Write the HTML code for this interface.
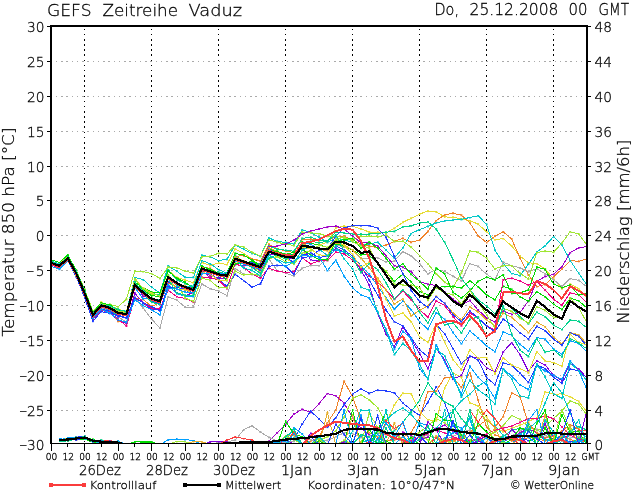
<!DOCTYPE html><html><head><meta charset="utf-8"><title>GEFS Zeitreihe Vaduz</title><style>html,body{margin:0;padding:0;background:#fff;overflow:hidden}svg{display:block}text{font-family:"DejaVu Sans","Liberation Sans",sans-serif;font-weight:200;fill:#000;stroke:#000;stroke-width:0.28px}</style></head><body>
<svg width="634" height="490" viewBox="0 0 634 490">
<rect width="634" height="490" fill="#fff"/>
<defs>
<marker id="m2" markerUnits="userSpaceOnUse" markerWidth="3" markerHeight="3" refX="1" refY="1"><rect width="2" height="2" fill="#fa3c3c"/></marker>
<marker id="m3" markerUnits="userSpaceOnUse" markerWidth="3" markerHeight="3" refX="1" refY="1"><rect width="2" height="2" fill="#00dc00"/></marker>
<marker id="m4" markerUnits="userSpaceOnUse" markerWidth="3" markerHeight="3" refX="1" refY="1"><rect width="2" height="2" fill="#1e3cff"/></marker>
<marker id="m5" markerUnits="userSpaceOnUse" markerWidth="3" markerHeight="3" refX="1" refY="1"><rect width="2" height="2" fill="#00c8c8"/></marker>
<marker id="m6" markerUnits="userSpaceOnUse" markerWidth="3" markerHeight="3" refX="1" refY="1"><rect width="2" height="2" fill="#f00082"/></marker>
<marker id="m7" markerUnits="userSpaceOnUse" markerWidth="3" markerHeight="3" refX="1" refY="1"><rect width="2" height="2" fill="#e6dc32"/></marker>
<marker id="m8" markerUnits="userSpaceOnUse" markerWidth="3" markerHeight="3" refX="1" refY="1"><rect width="2" height="2" fill="#f08228"/></marker>
<marker id="m9" markerUnits="userSpaceOnUse" markerWidth="3" markerHeight="3" refX="1" refY="1"><rect width="2" height="2" fill="#a000c8"/></marker>
<marker id="m10" markerUnits="userSpaceOnUse" markerWidth="3" markerHeight="3" refX="1" refY="1"><rect width="2" height="2" fill="#a0e632"/></marker>
<marker id="m11" markerUnits="userSpaceOnUse" markerWidth="3" markerHeight="3" refX="1" refY="1"><rect width="2" height="2" fill="#00a0ff"/></marker>
<marker id="m12" markerUnits="userSpaceOnUse" markerWidth="3" markerHeight="3" refX="1" refY="1"><rect width="2" height="2" fill="#e6af2d"/></marker>
<marker id="m13" markerUnits="userSpaceOnUse" markerWidth="3" markerHeight="3" refX="1" refY="1"><rect width="2" height="2" fill="#00d28c"/></marker>
<marker id="m14" markerUnits="userSpaceOnUse" markerWidth="3" markerHeight="3" refX="1" refY="1"><rect width="2" height="2" fill="#8200dc"/></marker>
<marker id="m15" markerUnits="userSpaceOnUse" markerWidth="3" markerHeight="3" refX="1" refY="1"><rect width="2" height="2" fill="#aaaaaa"/></marker>
<clipPath id="pc"><rect x="52" y="27" width="534" height="416"/></clipPath>
</defs>
<g stroke="#aaaaaa" stroke-width="1" stroke-dasharray="1.6 3.65" shape-rendering="crispEdges">
<line x1="50.5" y1="61.5" x2="586" y2="61.5"/>
<line x1="50.5" y1="96.5" x2="586" y2="96.5"/>
<line x1="50.5" y1="131.5" x2="586" y2="131.5"/>
<line x1="50.5" y1="166.5" x2="586" y2="166.5"/>
<line x1="50.5" y1="200.5" x2="586" y2="200.5"/>
<line x1="50.5" y1="235.5" x2="586" y2="235.5"/>
<line x1="50.5" y1="270.5" x2="586" y2="270.5"/>
<line x1="50.5" y1="305.5" x2="586" y2="305.5"/>
<line x1="50.5" y1="340.5" x2="586" y2="340.5"/>
<line x1="50.5" y1="375.5" x2="586" y2="375.5"/>
<line x1="50.5" y1="410.5" x2="586" y2="410.5"/>
</g>
<g stroke="#000" stroke-width="1" stroke-dasharray="1.6 3.55" shape-rendering="crispEdges">
<line x1="84.5" y1="28.6" x2="84.5" y2="443"/>
<line x1="151.5" y1="28.6" x2="151.5" y2="443"/>
<line x1="218.5" y1="28.6" x2="218.5" y2="443"/>
<line x1="285.5" y1="28.6" x2="285.5" y2="443"/>
<line x1="352.5" y1="28.6" x2="352.5" y2="443"/>
<line x1="419.5" y1="28.6" x2="419.5" y2="443"/>
<line x1="486.5" y1="28.6" x2="486.5" y2="443"/>
<line x1="553.5" y1="28.6" x2="553.5" y2="443"/>
</g>
<g clip-path="url(#pc)"><g fill="none" stroke-width="1" shape-rendering="crispEdges">
<polyline stroke="#a000c8" marker-mid="url(#m9)" points="59.4,439.5 67.8,438.9 76.1,438.9 84.5,436.8 92.9,441.1 101.2,442.2 109.6,441.0 118.0,441.4 126.4,444.5 134.8,444.5 143.1,444.5 151.5,444.5 159.9,444.5 168.2,444.5 176.6,444.5 185.0,444.5 193.4,444.5 201.8,444.5 210.1,444.5 218.5,444.5 226.9,444.5 235.2,444.5 243.6,444.5 252.0,444.5 260.4,444.5 268.8,441.3 277.1,432.8 285.5,424.4 293.9,414.0 302.2,409.4 310.6,412.3 319.0,403.7 327.4,393.6 335.8,395.7 344.1,403.1 352.5,417.6 360.9,428.0 369.2,434.5 377.6,438.9 386.0,441.7 394.4,438.3 402.8,432.2 411.1,435.6 419.5,439.8 427.9,437.0 436.2,428.8 444.6,425.1 453.0,431.2 461.4,437.5 469.8,440.9 478.1,440.1 486.5,436.2 494.9,439.9 503.2,441.8 511.6,438.2 520.0,432.7 528.4,428.7 536.8,433.1 545.1,439.3 553.5,441.9 561.9,438.5 570.2,434.4 578.6,436.5 587.0,440.0"/>
<polyline stroke="#1e3cff" marker-mid="url(#m4)" points="59.4,440.6 67.8,439.4 76.1,437.3 84.5,436.3 92.9,442.2 101.2,442.0 109.6,441.5 118.0,441.6 126.4,444.5 134.8,444.5 143.1,444.5 151.5,444.5 159.9,444.5 168.2,444.5 176.6,444.5 185.0,444.5 193.4,444.5 201.8,444.5 210.1,444.5 218.5,444.5 226.9,444.5 235.2,444.5 243.6,444.5 252.0,444.5 260.4,444.5 268.8,444.5 277.1,444.5 285.5,444.5 293.9,440.4 302.2,424.0 310.6,411.2 319.0,418.9 327.4,427.1 335.8,417.6 344.1,404.7 352.5,394.2 360.9,388.7 369.2,393.4 377.6,390.1 386.0,390.9 394.4,392.9 402.8,402.9 411.1,409.8 419.5,415.3 427.9,402.3 436.2,386.7 444.6,402.8 453.0,425.7 461.4,435.7 469.8,439.7 478.1,440.9 486.5,438.2 494.9,441.9 503.2,440.2 511.6,436.2 520.0,437.8 528.4,440.5 536.8,437.6 545.1,433.4 553.5,435.8 561.9,439.5 570.2,441.8 578.6,439.5 587.0,441.0"/>
<polyline stroke="#f08228" marker-mid="url(#m8)" points="59.4,441.6 67.8,440.1 76.1,439.3 84.5,437.1 92.9,440.2 101.2,441.3 109.6,440.9 118.0,444.5 126.4,444.5 134.8,444.5 143.1,444.5 151.5,444.5 159.9,444.5 168.2,444.5 176.6,444.5 185.0,444.5 193.4,444.5 201.8,444.5 210.1,444.5 218.5,444.5 226.9,444.5 235.2,444.5 243.6,444.5 252.0,444.5 260.4,444.5 268.8,444.5 277.1,444.5 285.5,444.5 293.9,444.5 302.2,444.5 310.6,441.3 319.0,436.6 327.4,422.6 335.8,410.1 344.1,381.3 352.5,396.6 360.9,420.2 369.2,432.6 377.6,437.2 386.0,440.6 394.4,440.1 402.8,437.1 411.1,432.5 419.5,417.9 427.9,391.5 436.2,391.1 444.6,377.6 453.0,377.2 461.4,387.4 469.8,372.5 478.1,400.0 486.5,427.1 494.9,434.9 503.2,437.8 511.6,440.9 520.0,440.1 528.4,437.5 536.8,438.7 545.1,440.8 553.5,438.2 561.9,436.2 570.2,439.6 578.6,441.7 587.0,441.0"/>
<polyline stroke="#aaaaaa" marker-mid="url(#m15)" points="59.4,439.8 67.8,440.5 76.1,438.2 84.5,437.4 92.9,440.8 101.2,444.5 109.6,441.5 118.0,444.5 126.4,444.5 134.8,444.5 143.1,444.5 151.5,444.5 159.9,444.5 168.2,444.5 176.6,444.5 185.0,444.5 193.4,444.5 201.8,444.5 210.1,444.5 218.5,442.5 226.9,442.0 235.2,440.2 243.6,429.8 252.0,425.8 260.4,432.0 268.8,437.3 277.1,440.7 285.5,442.7 293.9,441.3 302.2,438.3 310.6,439.7 319.0,441.8 327.4,440.4 335.8,436.6 344.1,432.8 352.5,433.6 360.9,437.4 369.2,436.4 377.6,433.1 386.0,434.6 394.4,438.7 402.8,440.9 411.1,440.1 419.5,437.2 427.9,435.2 436.2,437.7 444.6,439.9 453.0,436.4 461.4,432.3 469.8,430.1 478.1,433.6 486.5,437.8 494.9,441.0 503.2,440.1 511.6,436.2 520.0,430.7 528.4,426.7 536.8,429.4 545.1,435.3 553.5,439.8 561.9,440.9 570.2,438.3 578.6,436.3 587.0,439.0"/>
<polyline stroke="#a0e632" marker-mid="url(#m10)" points="59.4,439.2 67.8,439.8 76.1,437.8 84.5,438.7 92.9,440.1 101.2,442.7 109.6,442.6 118.0,442.5 126.4,444.5 134.8,444.5 143.1,444.5 151.5,444.5 159.9,444.5 168.2,444.5 176.6,444.5 185.0,444.5 193.4,444.5 201.8,444.5 210.1,444.5 218.5,444.5 226.9,444.5 235.2,444.5 243.6,444.5 252.0,444.5 260.4,444.5 268.8,444.5 277.1,444.5 285.5,444.5 293.9,444.5 302.2,444.5 310.6,444.5 319.0,440.4 327.4,436.7 335.8,430.9 344.1,417.3 352.5,398.3 360.9,394.8 369.2,399.8 377.6,407.7 386.0,422.9 394.4,434.2 402.8,439.8 411.1,438.2 419.5,432.4 427.9,425.9 436.2,418.7 444.6,422.8 453.0,429.2 461.4,435.5 469.8,439.9 478.1,440.9 486.5,438.2 494.9,432.1 503.2,425.6 511.6,415.5 520.0,419.4 528.4,426.6 536.8,430.5 545.1,427.4 553.5,418.6 561.9,411.0 570.2,400.9 578.6,404.2 587.0,415.0"/>
<polyline stroke="#e6dc32" marker-mid="url(#m7)" points="59.4,441.4 67.8,439.1 76.1,439.3 84.5,437.8 92.9,440.6 101.2,440.2 109.6,441.7 118.0,441.9 126.4,444.5 134.8,444.5 143.1,444.5 151.5,444.5 159.9,444.5 168.2,444.5 176.6,444.5 185.0,444.5 193.4,444.5 201.8,444.5 210.1,444.5 218.5,444.5 226.9,444.5 235.2,444.5 243.6,444.5 252.0,444.5 260.4,444.5 268.8,444.5 277.1,444.5 285.5,444.5 293.9,444.5 302.2,444.5 310.6,444.5 319.0,444.5 327.4,444.5 335.8,444.5 344.1,444.5 352.5,444.5 360.9,444.5 369.2,444.5 377.6,444.5 386.0,423.3 394.4,404.7 402.8,393.2 411.1,393.7 419.5,411.3 427.9,419.8 436.2,420.7 444.6,388.0 453.0,372.9 461.4,377.0 469.8,403.0 478.1,405.9 486.5,417.2 494.9,427.8 503.2,431.7 511.6,428.2 520.0,425.3 528.4,421.3 536.8,417.8 545.1,391.8 553.5,394.2 561.9,393.9 570.2,396.7 578.6,401.4 587.0,412.0"/>
<polyline stroke="#00d28c" marker-mid="url(#m13)" points="59.4,439.8 67.8,441.0 76.1,437.8 84.5,438.1 92.9,441.3 101.2,440.8 109.6,441.7 118.0,441.4 126.4,444.5 134.8,444.5 143.1,444.5 151.5,444.5 159.9,444.5 168.2,444.5 176.6,444.5 185.0,444.5 193.4,444.5 201.8,444.5 210.1,444.5 218.5,444.5 226.9,444.5 235.2,444.5 243.6,444.5 252.0,444.5 260.4,444.5 268.8,444.5 277.1,444.5 285.5,444.5 293.9,444.5 302.2,444.5 310.6,444.5 319.0,444.5 327.4,444.5 335.8,444.5 344.1,444.5 352.5,444.5 360.9,444.5 369.2,444.5 377.6,444.5 386.0,437.0 394.4,430.5 402.8,422.2 411.1,412.0 419.5,400.4 427.9,382.8 436.2,394.1 444.6,401.9 453.0,406.3 461.4,418.5 469.8,427.7 478.1,433.4 486.5,436.8 494.9,440.0 503.2,436.3 511.6,430.3 520.0,428.2 528.4,431.3 536.8,435.4 545.1,439.6 553.5,440.9 561.9,437.5 570.2,430.7 578.6,426.6 587.0,430.0"/>
<polyline stroke="#00c8c8" marker-mid="url(#m5)" points="59.4,441.3 67.8,438.7 76.1,438.2 84.5,437.0 92.9,441.8 101.2,442.7 109.6,442.3 118.0,442.7 126.4,444.5 134.8,444.5 143.1,444.5 151.5,444.5 159.9,444.5 168.2,444.5 176.6,444.5 185.0,444.5 193.4,444.5 201.8,444.5 210.1,444.5 218.5,444.5 226.9,444.5 235.2,444.5 243.6,444.5 252.0,444.5 260.4,444.5 268.8,444.5 277.1,444.5 285.5,444.5 293.9,444.5 302.2,444.5 310.6,444.5 319.0,444.5 327.4,444.5 335.8,444.5 344.1,444.5 352.5,444.5 360.9,442.7 369.2,440.2 377.6,430.5 386.0,420.0 394.4,412.6 402.8,408.1 411.1,414.3 419.5,424.4 427.9,431.1 436.2,428.4 444.6,418.5 453.0,410.9 461.4,400.8 469.8,394.2 478.1,386.0 486.5,380.9 494.9,425.4 503.2,435.3 511.6,437.9 520.0,434.4 528.4,429.1 536.8,421.2 545.1,403.2 553.5,382.8 561.9,392.9 570.2,413.5 578.6,429.6 587.0,438.0"/>
<polyline stroke="#f00082" marker-mid="url(#m6)" points="59.4,438.7 67.8,440.8 76.1,437.2 84.5,437.1 92.9,440.4 101.2,442.3 109.6,442.5 118.0,442.1 126.4,444.5 134.8,444.5 143.1,444.5 151.5,444.5 159.9,444.5 168.2,444.5 176.6,444.5 185.0,444.5 193.4,444.5 201.8,444.5 210.1,444.5 218.5,444.5 226.9,444.5 235.2,444.5 243.6,444.5 252.0,444.5 260.4,444.5 268.8,444.5 277.1,444.5 285.5,444.5 293.9,444.5 302.2,444.5 310.6,444.5 319.0,444.5 327.4,444.5 335.8,444.5 344.1,444.5 352.5,444.5 360.9,444.5 369.2,444.5 377.6,444.5 386.0,444.5 394.4,444.5 402.8,442.5 411.1,441.1 419.5,437.2 427.9,433.5 436.2,430.3 444.6,432.9 453.0,436.6 461.4,439.8 469.8,441.0 478.1,438.3 486.5,434.2 494.9,430.1 503.2,428.2 511.6,426.1 520.0,422.4 528.4,418.7 536.8,418.9 545.1,415.8 553.5,418.7 561.9,426.8 570.2,435.2 578.6,439.4 587.0,441.0"/>
<polyline stroke="#f08228" marker-mid="url(#m8)" points="59.4,441.3 67.8,440.9 76.1,437.0 84.5,437.9 92.9,440.7 101.2,441.2 109.6,441.9 118.0,442.0 126.4,444.5 134.8,444.5 143.1,444.5 151.5,444.5 159.9,444.5 168.2,444.5 176.6,444.5 185.0,444.5 193.4,444.5 201.8,444.5 210.1,444.5 218.5,444.5 226.9,444.5 235.2,444.5 243.6,444.5 252.0,444.5 260.4,444.5 268.8,444.5 277.1,444.5 285.5,444.5 293.9,444.5 302.2,444.5 310.6,444.5 319.0,444.5 327.4,444.5 335.8,444.5 344.1,444.5 352.5,444.5 360.9,444.5 369.2,444.5 377.6,444.5 386.0,444.5 394.4,444.5 402.8,444.5 411.1,444.5 419.5,444.5 427.9,444.5 436.2,444.5 444.6,442.3 453.0,441.1 461.4,438.2 469.8,432.2 478.1,426.0 486.5,420.1 494.9,427.3 503.2,416.6 511.6,393.0 520.0,396.8 528.4,423.3 536.8,432.9 545.1,437.6 553.5,436.1 561.9,430.8 570.2,424.6 578.6,429.1 587.0,436.0"/>
<polyline stroke="#00dc00" marker-mid="url(#m3)" points="59.4,440.5 67.8,439.8 76.1,440.0 84.5,439.0 92.9,442.4 101.2,441.3 109.6,444.5 118.0,444.5 126.4,444.5 134.8,442.0 143.1,441.5 151.5,442.0 159.9,444.5 168.2,444.5 176.6,444.5 185.0,444.5 193.4,444.5 201.8,444.5 210.1,444.5 218.5,444.5 226.9,444.5 235.2,444.5 243.6,444.5 252.0,444.5 260.4,442.3 268.8,444.5 277.1,444.5 285.5,421.3 293.9,433.8 302.2,436.9 310.6,444.5 319.0,441.3 327.4,444.5 335.8,444.5 344.1,444.5 352.5,410.0 360.9,444.5 369.2,444.5 377.6,431.1 386.0,411.3 394.4,444.5 402.8,444.5 411.1,437.4 419.5,444.5 427.9,444.5 436.2,413.6 444.6,420.2 453.0,421.1 461.4,435.0 469.8,444.5 478.1,423.3 486.5,432.0 494.9,438.5 503.2,444.5 511.6,444.5 520.0,444.5 528.4,444.5 536.8,423.4 545.1,410.0 553.5,444.5 561.9,444.5 570.2,444.5 578.6,444.5 587.0,444.5"/>
<polyline stroke="#00a0ff" marker-mid="url(#m11)" points="59.4,439.7 67.8,437.9 76.1,437.4 84.5,438.5 92.9,441.5 101.2,442.3 109.6,440.9 118.0,442.7 126.4,444.5 134.8,444.5 143.1,444.5 151.5,444.5 159.9,444.5 168.2,440.0 176.6,439.0 185.0,439.5 193.4,440.5 201.8,444.5 210.1,444.5 218.5,444.5 226.9,444.5 235.2,444.5 243.6,444.5 252.0,440.0 260.4,444.5 268.8,444.5 277.1,441.5 285.5,441.1 293.9,427.8 302.2,433.9 310.6,444.5 319.0,444.5 327.4,444.5 335.8,444.5 344.1,444.5 352.5,444.5 360.9,436.1 369.2,444.5 377.6,434.3 386.0,444.5 394.4,444.5 402.8,436.3 411.1,444.5 419.5,422.7 427.9,425.7 436.2,444.5 444.6,438.0 453.0,433.1 461.4,429.8 469.8,419.3 478.1,444.5 486.5,438.1 494.9,444.5 503.2,438.0 511.6,444.5 520.0,434.5 528.4,437.1 536.8,444.5 545.1,444.5 553.5,433.3 561.9,444.5 570.2,444.5 578.6,441.7 587.0,438.5"/>
<polyline stroke="#e6af2d" marker-mid="url(#m12)" points="59.4,440.9 67.8,439.3 76.1,439.7 84.5,437.2 92.9,440.1 101.2,442.2 109.6,440.7 118.0,444.5 126.4,444.5 134.8,444.5 143.1,444.5 151.5,444.5 159.9,444.5 168.2,444.5 176.6,444.5 185.0,444.5 193.4,441.5 201.8,441.8 210.1,444.5 218.5,444.5 226.9,444.5 235.2,444.5 243.6,444.5 252.0,442.7 260.4,444.5 268.8,444.5 277.1,444.5 285.5,436.2 293.9,435.3 302.2,444.5 310.6,444.5 319.0,444.5 327.4,413.0 335.8,444.5 344.1,444.5 352.5,416.1 360.9,444.5 369.2,444.5 377.6,444.5 386.0,444.5 394.4,423.1 402.8,444.5 411.1,444.5 419.5,436.3 427.9,444.5 436.2,435.7 444.6,444.5 453.0,440.8 461.4,444.5 469.8,444.5 478.1,444.5 486.5,441.8 494.9,428.1 503.2,444.5 511.6,444.5 520.0,438.0 528.4,444.5 536.8,444.5 545.1,414.9 553.5,444.5 561.9,435.6 570.2,426.2 578.6,444.5 587.0,444.5"/>
<polyline stroke="#8200dc" marker-mid="url(#m14)" points="59.4,440.6 67.8,439.1 76.1,439.4 84.5,436.2 92.9,441.6 101.2,440.5 109.6,442.3 118.0,441.6 126.4,444.5 134.8,444.5 143.1,444.5 151.5,444.5 159.9,444.5 168.2,444.5 176.6,444.5 185.0,444.5 193.4,444.5 201.8,444.5 210.1,442.0 218.5,441.8 226.9,442.0 235.2,444.5 243.6,442.9 252.0,442.2 260.4,444.5 268.8,441.8 277.1,444.5 285.5,438.9 293.9,444.5 302.2,444.5 310.6,433.4 319.0,437.3 327.4,444.5 335.8,444.5 344.1,441.8 352.5,444.5 360.9,418.5 369.2,444.5 377.6,444.5 386.0,444.5 394.4,444.5 402.8,444.5 411.1,444.5 419.5,444.5 427.9,422.1 436.2,429.8 444.6,444.5 453.0,421.4 461.4,444.5 469.8,444.5 478.1,440.8 486.5,444.5 494.9,444.5 503.2,444.5 511.6,429.3 520.0,436.8 528.4,444.5 536.8,444.5 545.1,423.4 553.5,444.5 561.9,444.5 570.2,444.5 578.6,444.5 587.0,410.0"/>
<polyline stroke="#fa3c3c" marker-mid="url(#m2)" points="59.4,440.7 67.8,438.8 76.1,439.6 84.5,438.2 92.9,440.0 101.2,440.8 109.6,440.5 118.0,442.7 126.4,444.5 134.8,444.5 143.1,444.5 151.5,444.5 159.9,444.5 168.2,444.5 176.6,444.5 185.0,444.5 193.4,444.5 201.8,444.5 210.1,444.5 218.5,444.5 226.9,440.0 235.2,437.0 243.6,438.5 252.0,440.0 260.4,444.5 268.8,442.5 277.1,440.8 285.5,444.5 293.9,431.6 302.2,444.5 310.6,444.5 319.0,444.5 327.4,444.5 335.8,444.5 344.1,444.5 352.5,444.5 360.9,444.5 369.2,441.9 377.6,444.5 386.0,420.9 394.4,428.5 402.8,423.1 411.1,444.5 419.5,444.5 427.9,444.5 436.2,438.0 444.6,444.5 453.0,410.0 461.4,444.5 469.8,410.0 478.1,422.1 486.5,410.0 494.9,418.6 503.2,429.7 511.6,438.7 520.0,444.5 528.4,444.5 536.8,444.5 545.1,444.5 553.5,444.5 561.9,444.5 570.2,433.3 578.6,430.3 587.0,430.2"/>
<polyline stroke="#00dc00" marker-mid="url(#m3)" points="59.4,439.0 67.8,440.2 76.1,438.2 84.5,437.5 92.9,439.4 101.2,441.6 109.6,442.2 118.0,444.5 126.4,444.5 134.8,444.5 143.1,442.3 151.5,442.0 159.9,444.5 168.2,444.5 176.6,444.5 185.0,444.5 193.4,444.5 201.8,444.5 210.1,444.5 218.5,444.5 226.9,444.5 235.2,444.5 243.6,444.5 252.0,442.7 260.4,441.5 268.8,444.5 277.1,444.5 285.5,444.5 293.9,444.5 302.2,444.5 310.6,444.5 319.0,436.7 327.4,444.5 335.8,444.5 344.1,444.5 352.5,444.5 360.9,444.5 369.2,429.0 377.6,444.5 386.0,441.3 394.4,444.5 402.8,444.5 411.1,442.6 419.5,444.5 427.9,444.5 436.2,444.5 444.6,444.5 453.0,444.5 461.4,444.5 469.8,442.0 478.1,444.5 486.5,444.5 494.9,444.5 503.2,444.5 511.6,439.2 520.0,428.1 528.4,430.3 536.8,444.5 545.1,427.8 553.5,444.5 561.9,414.9 570.2,432.4 578.6,431.3 587.0,444.5"/>
<polyline stroke="#a0e632" marker-mid="url(#m10)" points="59.4,439.5 67.8,438.7 76.1,439.0 84.5,436.7 92.9,440.9 101.2,440.8 109.6,444.5 118.0,441.6 126.4,444.5 134.8,444.5 143.1,444.5 151.5,444.5 159.9,444.5 168.2,444.5 176.6,441.5 185.0,441.5 193.4,444.5 201.8,444.5 210.1,444.5 218.5,444.5 226.9,444.5 235.2,444.5 243.6,442.8 252.0,441.8 260.4,444.5 268.8,444.5 277.1,444.5 285.5,436.2 293.9,439.5 302.2,444.5 310.6,444.5 319.0,438.9 327.4,444.5 335.8,444.5 344.1,440.3 352.5,444.5 360.9,444.5 369.2,413.0 377.6,427.6 386.0,444.5 394.4,444.5 402.8,444.5 411.1,444.5 419.5,435.2 427.9,439.7 436.2,444.5 444.6,438.5 453.0,444.5 461.4,444.5 469.8,444.5 478.1,410.0 486.5,420.6 494.9,444.5 503.2,442.2 511.6,444.5 520.0,444.5 528.4,444.5 536.8,444.5 545.1,444.5 553.5,441.2 561.9,410.0 570.2,429.1 578.6,438.2 587.0,438.9"/>
<polyline stroke="#00a0ff" marker-mid="url(#m11)" points="59.4,438.8 67.8,439.6 76.1,438.6 84.5,437.7 92.9,441.6 101.2,441.7 109.6,444.5 118.0,441.3 126.4,444.5 134.8,444.5 143.1,444.5 151.5,444.5 159.9,444.5 168.2,444.5 176.6,444.5 185.0,444.5 193.4,444.5 201.8,444.5 210.1,444.5 218.5,444.5 226.9,444.5 235.2,444.5 243.6,444.5 252.0,441.7 260.4,444.5 268.8,444.5 277.1,441.8 285.5,444.5 293.9,433.8 302.2,444.5 310.6,444.5 319.0,444.5 327.4,444.5 335.8,444.5 344.1,410.0 352.5,444.5 360.9,415.1 369.2,444.5 377.6,439.6 386.0,422.9 394.4,436.7 402.8,422.0 411.1,444.5 419.5,444.5 427.9,444.5 436.2,442.7 444.6,442.1 453.0,425.4 461.4,427.8 469.8,444.5 478.1,437.2 486.5,444.5 494.9,444.5 503.2,444.5 511.6,444.5 520.0,444.5 528.4,420.0 536.8,410.0 545.1,444.5 553.5,444.5 561.9,433.6 570.2,444.5 578.6,440.6 587.0,444.5"/>
<polyline stroke="#00c8c8" marker-mid="url(#m5)" points="59.4,439.2 67.8,439.8 76.1,437.4 84.5,438.9 92.9,440.1 101.2,440.3 109.6,442.6 118.0,442.1 126.4,444.5 134.8,444.5 143.1,444.5 151.5,444.5 159.9,444.5 168.2,444.5 176.6,444.5 185.0,444.5 193.4,444.5 201.8,444.5 210.1,444.5 218.5,444.5 226.9,444.5 235.2,444.5 243.6,444.5 252.0,444.5 260.4,444.5 268.8,444.5 277.1,444.5 285.5,444.5 293.9,438.0 302.2,444.5 310.6,444.5 319.0,436.6 327.4,444.5 335.8,444.5 344.1,444.5 352.5,431.2 360.9,410.0 369.2,410.0 377.6,444.5 386.0,410.0 394.4,444.5 402.8,444.5 411.1,444.5 419.5,444.5 427.9,444.5 436.2,444.5 444.6,410.0 453.0,444.5 461.4,439.6 469.8,416.4 478.1,444.5 486.5,444.5 494.9,444.5 503.2,444.5 511.6,444.5 520.0,444.5 528.4,444.5 536.8,444.5 545.1,420.1 553.5,432.2 561.9,444.5 570.2,433.7 578.6,419.8 587.0,444.5"/>
<polyline stroke="#00d28c" marker-mid="url(#m13)" points="59.4,441.3 67.8,440.9 76.1,439.0 84.5,436.1 92.9,441.3 101.2,440.4 109.6,444.5 118.0,444.5 126.4,444.5 134.8,444.5 143.1,444.5 151.5,444.5 159.9,444.5 168.2,444.5 176.6,444.5 185.0,444.5 193.4,444.5 201.8,444.5 210.1,444.5 218.5,444.5 226.9,444.5 235.2,444.5 243.6,442.9 252.0,444.5 260.4,444.5 268.8,444.5 277.1,444.5 285.5,436.9 293.9,429.4 302.2,444.5 310.6,444.5 319.0,444.5 327.4,444.5 335.8,444.5 344.1,444.5 352.5,444.5 360.9,434.5 369.2,437.1 377.6,444.5 386.0,427.8 394.4,444.5 402.8,444.5 411.1,444.5 419.5,439.4 427.9,426.3 436.2,444.5 444.6,444.5 453.0,410.0 461.4,444.5 469.8,410.0 478.1,444.5 486.5,444.5 494.9,444.5 503.2,441.2 511.6,444.5 520.0,444.5 528.4,424.4 536.8,444.5 545.1,444.5 553.5,444.5 561.9,440.1 570.2,444.5 578.6,437.8 587.0,440.8"/>
<polyline stroke="#1e3cff" marker-mid="url(#m4)" points="59.4,439.5 67.8,439.6 76.1,439.9 84.5,437.9 92.9,440.5 101.2,441.3 109.6,441.2 118.0,442.5 126.4,444.5 134.8,444.5 143.1,444.5 151.5,444.5 159.9,444.5 168.2,444.5 176.6,444.5 185.0,444.5 193.4,444.5 201.8,444.5 210.1,444.5 218.5,444.5 226.9,444.5 235.2,444.5 243.6,444.5 252.0,442.5 260.4,444.5 268.8,444.5 277.1,444.5 285.5,444.5 293.9,444.5 302.2,444.5 310.6,436.8 319.0,444.5 327.4,444.5 335.8,424.4 344.1,434.4 352.5,444.5 360.9,418.3 369.2,444.5 377.6,415.5 386.0,444.5 394.4,444.5 402.8,444.5 411.1,444.5 419.5,435.7 427.9,444.5 436.2,444.5 444.6,441.5 453.0,421.2 461.4,444.5 469.8,435.1 478.1,444.5 486.5,444.5 494.9,444.5 503.2,444.5 511.6,444.5 520.0,444.5 528.4,431.4 536.8,438.9 545.1,444.5 553.5,441.9 561.9,434.4 570.2,410.0 578.6,444.5 587.0,444.5"/>
<polyline stroke="#e6dc32" marker-mid="url(#m7)" points="51.0,261.0 59.4,264.0 67.8,255.5 76.1,271.1 84.5,290.6 92.9,313.1 101.2,302.2 109.6,305.7 118.0,309.0 126.4,311.9 134.8,278.0 143.1,288.7 151.5,294.4 159.9,294.6 168.2,270.3 176.6,277.4 185.0,280.1 193.4,282.7 201.8,262.4 210.1,265.4 218.5,263.0 226.9,264.5 235.2,249.1 243.6,253.5 252.0,258.8 260.4,260.5 268.8,250.6 277.1,255.1 285.5,258.6 293.9,262.6 302.2,254.9 310.6,250.7 319.0,245.2 327.4,242.2 335.8,228.0 344.1,226.0 352.5,226.0 360.9,229.0 369.2,232.0 377.6,232.0 386.0,233.0 394.4,228.3 402.8,222.3 411.1,218.3 419.5,214.1 427.9,211.1 436.2,211.8 444.6,216.9 453.0,217.3 461.4,218.9 469.8,220.7 478.1,224.1 486.5,231.8 494.9,239.7 503.2,238.5 511.6,245.9 520.0,256.0 528.4,262.8 536.8,263.5 545.1,269.0 553.5,279.0 561.9,288.7 570.2,284.2 578.6,288.6 587.0,298.0"/>
<polyline stroke="#f08228" marker-mid="url(#m8)" points="51.0,264.7 59.4,268.3 67.8,260.9 76.1,275.5 84.5,294.8 92.9,316.5 101.2,308.9 109.6,312.7 118.0,321.3 126.4,323.4 134.8,298.2 143.1,299.5 151.5,306.3 159.9,303.0 168.2,283.3 176.6,286.7 185.0,290.5 193.4,289.4 201.8,267.1 210.1,268.3 218.5,273.5 226.9,275.5 235.2,256.2 243.6,255.8 252.0,258.9 260.4,261.0 268.8,244.2 277.1,248.5 285.5,251.1 293.9,252.5 302.2,239.2 310.6,239.0 319.0,240.6 327.4,241.2 335.8,236.0 344.1,236.0 352.5,240.0 360.9,243.9 369.2,246.0 377.6,247.7 386.0,245.1 394.4,241.3 402.8,238.3 411.1,242.3 419.5,240.1 427.9,231.4 436.2,220.5 444.6,215.1 453.0,213.2 461.4,215.2 469.8,222.8 478.1,235.8 486.5,242.5 494.9,236.1 503.2,231.8 511.6,239.0 520.0,258.0 528.4,274.9 536.8,286.5 545.1,284.6 553.5,276.8 561.9,269.0 570.2,260.7 578.6,261.3 587.0,259.0"/>
<polyline stroke="#00d28c" marker-mid="url(#m13)" points="51.0,265.0 59.4,267.8 67.8,258.9 76.1,273.9 84.5,294.6 92.9,316.4 101.2,306.9 109.6,311.7 118.0,314.5 126.4,315.0 134.8,282.0 143.1,288.4 151.5,293.5 159.9,294.9 168.2,269.7 176.6,279.6 185.0,283.6 193.4,286.6 201.8,270.3 210.1,272.8 218.5,271.8 226.9,274.2 235.2,255.4 243.6,262.0 252.0,262.2 260.4,263.9 268.8,245.9 277.1,249.2 285.5,250.2 293.9,251.3 302.2,238.4 310.6,237.2 319.0,240.0 327.4,240.9 335.8,232.0 344.1,233.0 352.5,234.0 360.9,234.0 369.2,234.0 377.6,233.6 386.0,232.2 394.4,231.4 402.8,226.9 411.1,225.8 419.5,223.1 427.9,221.8 436.2,229.1 444.6,242.3 453.0,259.5 461.4,278.3 469.8,289.2 478.1,300.0 486.5,305.9 494.9,313.6 503.2,301.2 511.6,307.9 520.0,316.6 528.4,323.7 536.8,312.2 545.1,316.7 553.5,325.2 561.9,329.5 570.2,320.0 578.6,321.2 587.0,328.0"/>
<polyline stroke="#00c8c8" marker-mid="url(#m5)" points="51.0,262.4 59.4,265.3 67.8,257.4 76.1,273.2 84.5,292.8 92.9,314.0 101.2,304.6 109.6,305.9 118.0,309.6 126.4,311.3 134.8,277.5 143.1,279.5 151.5,287.2 159.9,292.9 168.2,266.0 176.6,271.1 185.0,277.2 193.4,277.3 201.8,255.2 210.1,256.8 218.5,260.5 226.9,259.3 235.2,245.2 243.6,249.1 252.0,253.4 260.4,256.3 268.8,237.9 277.1,241.3 285.5,242.4 293.9,244.3 302.2,229.8 310.6,232.5 319.0,237.1 327.4,242.3 335.8,238.0 344.1,240.0 352.5,242.0 360.9,245.0 369.2,244.0 377.6,242.2 386.0,250.0 394.4,258.0 402.8,247.8 411.1,233.5 419.5,229.6 427.9,226.4 436.2,222.8 444.6,220.9 453.0,220.1 461.4,219.4 469.8,217.5 478.1,215.7 486.5,224.3 494.9,250.1 503.2,263.3 511.6,273.5 520.0,275.6 528.4,264.1 536.8,252.1 545.1,245.7 553.5,236.7 561.9,244.9 570.2,260.6 578.6,273.2 587.0,285.0"/>
<polyline stroke="#aaaaaa" marker-mid="url(#m15)" points="51.0,263.7 59.4,266.8 67.8,258.5 76.1,272.5 84.5,292.2 92.9,314.7 101.2,307.2 109.6,311.2 118.0,316.7 126.4,322.3 134.8,297.0 143.1,308.0 151.5,319.0 159.9,328.0 168.2,297.0 176.6,299.9 185.0,307.0 193.4,307.0 201.8,284.0 210.1,288.6 218.5,291.0 226.9,295.7 235.2,268.6 243.6,274.0 252.0,274.4 260.4,276.0 268.8,258.8 277.1,270.6 285.5,273.0 293.9,275.9 302.2,268.3 310.6,265.4 319.0,265.6 327.4,258.7 335.8,245.0 344.1,247.0 352.5,250.0 360.9,258.5 369.2,258.0 377.6,257.9 386.0,261.8 394.4,261.0 402.8,251.7 411.1,255.8 419.5,263.5 427.9,273.9 436.2,269.3 444.6,271.4 453.0,276.2 461.4,281.0 469.8,263.5 478.1,266.4 486.5,274.0 494.9,280.0 503.2,262.1 511.6,265.7 520.0,267.9 528.4,271.7 536.8,268.8 545.1,273.8 553.5,279.7 561.9,286.4 570.2,278.6 578.6,280.3 587.0,287.0"/>
<polyline stroke="#a0e632" marker-mid="url(#m10)" points="51.0,261.8 59.4,264.6 67.8,256.4 76.1,270.3 84.5,289.1 92.9,310.9 101.2,304.4 109.6,304.3 118.0,306.7 126.4,299.3 134.8,271.0 143.1,271.5 151.5,273.6 159.9,278.4 168.2,267.0 176.6,267.9 185.0,271.0 193.4,273.0 201.8,257.0 210.1,256.4 218.5,253.3 226.9,254.0 235.2,245.0 243.6,247.0 252.0,252.4 260.4,256.0 268.8,239.8 277.1,242.4 285.5,243.9 293.9,245.6 302.2,232.0 310.6,232.8 319.0,233.5 327.4,236.3 335.8,236.0 344.1,238.0 352.5,240.0 360.9,236.1 369.2,236.0 377.6,237.0 386.0,235.2 394.4,241.5 402.8,241.1 411.1,247.1 419.5,255.7 427.9,263.8 436.2,273.8 444.6,282.2 453.0,287.4 461.4,273.2 469.8,250.8 478.1,252.3 486.5,258.2 494.9,269.0 503.2,265.7 511.6,266.0 520.0,273.4 528.4,279.0 536.8,252.6 545.1,251.1 553.5,252.2 561.9,243.2 570.2,231.7 578.6,233.8 587.0,245.3"/>
<polyline stroke="#a000c8" marker-mid="url(#m9)" points="51.0,265.1 59.4,267.6 67.8,258.3 76.1,273.0 84.5,293.6 92.9,314.6 101.2,306.6 109.6,308.4 118.0,314.0 126.4,314.9 134.8,283.2 143.1,296.3 151.5,298.5 159.9,304.1 168.2,277.7 176.6,284.5 185.0,286.3 193.4,288.6 201.8,269.4 210.1,278.3 218.5,277.9 226.9,279.1 235.2,264.7 243.6,265.3 252.0,266.5 260.4,264.1 268.8,246.6 277.1,246.0 285.5,244.0 293.9,240.1 302.2,234.0 310.6,231.0 319.0,229.0 327.4,227.1 335.8,226.0 344.1,229.0 352.5,236.0 360.9,242.9 369.2,243.0 377.6,246.0 386.0,255.7 394.4,265.7 402.8,267.2 411.1,271.4 419.5,281.6 427.9,284.3 436.2,285.5 444.6,292.0 453.0,299.1 461.4,304.8 469.8,300.4 478.1,310.0 486.5,317.8 494.9,321.8 503.2,311.0 511.6,314.4 520.0,312.5 528.4,301.1 536.8,281.3 545.1,276.4 553.5,274.4 561.9,266.7 570.2,252.6 578.6,247.9 587.0,246.5"/>
<polyline stroke="#00dc00" marker-mid="url(#m3)" points="51.0,262.0 59.4,264.7 67.8,257.2 76.1,272.8 84.5,292.9 92.9,314.8 101.2,304.6 109.6,306.9 118.0,312.8 126.4,313.9 134.8,282.2 143.1,287.6 151.5,292.0 159.9,292.7 168.2,271.1 176.6,278.1 185.0,282.1 193.4,288.3 201.8,265.8 210.1,270.2 218.5,275.0 226.9,273.2 235.2,253.4 243.6,255.1 252.0,260.1 260.4,265.4 268.8,248.1 277.1,252.9 285.5,254.8 293.9,255.0 302.2,241.9 310.6,243.6 319.0,244.5 327.4,247.6 335.8,244.0 344.1,246.0 352.5,250.0 360.9,254.9 369.2,255.0 377.6,263.7 386.0,271.7 394.4,281.3 402.8,274.2 411.1,281.7 419.5,291.6 427.9,294.7 436.2,287.6 444.6,286.5 453.0,286.4 461.4,287.9 469.8,280.9 478.1,286.6 486.5,294.8 494.9,299.8 503.2,286.3 511.6,289.4 520.0,296.7 528.4,301.2 536.8,291.7 545.1,296.7 553.5,304.3 561.9,309.4 570.2,298.3 578.6,300.8 587.0,308.0"/>
<polyline stroke="#8200dc" marker-mid="url(#m14)" points="51.0,261.0 59.4,264.0 67.8,257.4 76.1,273.4 84.5,294.7 92.9,317.2 101.2,308.7 109.6,312.6 118.0,319.9 126.4,323.2 134.8,293.1 143.1,302.9 151.5,309.4 159.9,309.9 168.2,286.5 176.6,292.5 185.0,295.7 193.4,292.6 201.8,271.4 210.1,275.7 218.5,278.1 226.9,274.8 235.2,258.7 243.6,264.0 252.0,267.1 260.4,270.9 268.8,254.2 277.1,254.5 285.5,258.7 293.9,258.1 302.2,247.2 310.6,259.7 319.0,261.2 327.4,259.1 335.8,248.0 344.1,252.0 352.5,258.0 360.9,269.8 369.2,285.0 377.6,313.4 386.0,334.0 394.4,346.8 402.8,326.6 411.1,339.4 419.5,353.3 427.9,368.6 436.2,348.7 444.6,359.7 453.0,379.1 461.4,375.3 469.8,356.5 478.1,358.0 486.5,367.8 494.9,371.8 503.2,351.9 511.6,342.6 520.0,354.5 528.4,371.2 536.8,360.8 545.1,364.9 553.5,375.2 561.9,380.8 570.2,363.5 578.6,368.8 587.0,378.0"/>
<polyline stroke="#1e3cff" marker-mid="url(#m4)" points="51.0,264.6 59.4,267.0 67.8,260.4 76.1,276.6 84.5,296.7 92.9,319.5 101.2,309.2 109.6,311.2 118.0,316.6 126.4,317.5 134.8,286.9 143.1,294.1 151.5,300.7 159.9,304.4 168.2,282.0 176.6,282.3 185.0,290.5 193.4,292.7 201.8,268.6 210.1,270.7 218.5,274.6 226.9,278.8 235.2,260.3 243.6,263.7 252.0,262.5 260.4,265.6 268.8,250.3 277.1,252.2 285.5,256.5 293.9,262.7 302.2,255.3 310.6,252.7 319.0,257.6 327.4,255.7 335.8,246.0 344.1,250.0 352.5,256.0 360.9,265.9 369.2,280.0 377.6,295.0 386.0,310.0 394.4,321.7 402.8,325.7 411.1,337.6 419.5,349.9 427.9,356.6 436.2,324.2 444.6,333.8 453.0,348.5 461.4,363.6 469.8,356.1 478.1,360.2 486.5,377.6 494.9,384.7 503.2,362.8 511.6,365.3 520.0,373.2 528.4,382.4 536.8,364.8 545.1,368.7 553.5,377.2 561.9,383.2 570.2,369.0 578.6,370.8 587.0,380.0"/>
<polyline stroke="#f00082" marker-mid="url(#m6)" points="51.0,265.2 59.4,267.2 67.8,260.1 76.1,274.5 84.5,294.4 92.9,319.3 101.2,310.5 109.6,312.2 118.0,319.2 126.4,325.9 134.8,298.3 143.1,302.6 151.5,308.2 159.9,308.2 168.2,290.2 176.6,296.7 185.0,298.4 193.4,302.1 201.8,277.2 210.1,277.4 218.5,280.1 226.9,288.6 235.2,263.4 243.6,267.4 252.0,274.0 260.4,278.1 268.8,268.2 277.1,270.9 285.5,272.5 293.9,271.6 302.2,257.8 310.6,263.9 319.0,260.8 327.4,260.5 335.8,252.0 344.1,254.0 352.5,260.0 360.9,267.9 369.2,276.0 377.6,282.0 386.0,290.0 394.4,299.3 402.8,291.0 411.1,299.6 419.5,309.6 427.9,317.2 436.2,300.8 444.6,305.5 453.0,316.6 461.4,325.7 469.8,313.0 478.1,318.0 486.5,325.8 494.9,329.8 503.2,279.8 511.6,278.2 520.0,281.0 528.4,285.1 536.8,281.0 545.1,290.1 553.5,299.2 561.9,305.2 570.2,292.7 578.6,294.8 587.0,303.0"/>
<polyline stroke="#00a0ff" marker-mid="url(#m11)" points="51.0,263.7 59.4,266.8 67.8,260.4 76.1,274.6 84.5,296.6 92.9,317.7 101.2,306.7 109.6,310.3 118.0,313.3 126.4,314.2 134.8,287.6 143.1,298.8 151.5,298.7 159.9,303.1 168.2,284.6 176.6,293.7 185.0,296.1 193.4,296.5 201.8,273.6 210.1,272.4 218.5,274.4 226.9,275.4 235.2,258.0 243.6,264.6 252.0,266.3 260.4,265.3 268.8,252.5 277.1,252.8 285.5,254.6 293.9,255.2 302.2,242.7 310.6,244.4 319.0,249.2 327.4,255.5 335.8,250.0 344.1,252.0 352.5,258.0 360.9,265.9 369.2,274.0 377.6,286.0 386.0,298.0 394.4,309.2 402.8,301.0 411.1,309.6 419.5,321.6 427.9,329.2 436.2,312.8 444.6,319.4 453.0,332.4 461.4,343.6 469.8,331.0 478.1,338.0 486.5,345.8 494.9,351.7 503.2,331.9 511.6,335.3 520.0,344.4 528.4,350.9 536.8,337.5 545.1,339.2 553.5,349.0 561.9,354.4 570.2,340.8 578.6,343.6 587.0,352.0"/>
<polyline stroke="#e6af2d" marker-mid="url(#m12)" points="51.0,261.0 59.4,266.3 67.8,258.9 76.1,273.9 84.5,293.1 92.9,314.6 101.2,304.5 109.6,306.0 118.0,311.8 126.4,313.1 134.8,284.9 143.1,290.2 151.5,298.2 159.9,301.0 168.2,278.5 176.6,284.0 185.0,285.9 193.4,292.1 201.8,269.2 210.1,271.5 218.5,272.7 226.9,274.6 235.2,256.8 243.6,260.6 252.0,264.1 260.4,265.4 268.8,247.7 277.1,251.4 285.5,255.9 293.9,258.2 302.2,243.9 310.6,246.6 319.0,249.4 327.4,250.8 335.8,243.0 344.1,245.0 352.5,250.0 360.9,257.9 369.2,268.0 377.6,278.0 386.0,290.0 394.4,304.0 402.8,298.7 411.1,315.8 419.5,310.6 427.9,305.6 436.2,296.4 444.6,303.4 453.0,312.9 461.4,319.7 469.8,307.0 478.1,312.0 486.5,319.8 494.9,325.7 503.2,313.2 511.6,317.3 520.0,324.7 528.4,332.5 536.8,322.0 545.1,326.7 553.5,337.0 561.9,344.1 570.2,332.5 578.6,334.8 587.0,344.0"/>
<polyline stroke="#1e3cff" marker-mid="url(#m4)" points="51.0,264.6 59.4,266.7 67.8,260.0 76.1,275.7 84.5,297.4 92.9,321.2 101.2,311.6 109.6,313.4 118.0,314.9 126.4,318.1 134.8,297.8 143.1,302.8 151.5,306.5 159.9,310.8 168.2,286.8 176.6,287.6 185.0,289.0 193.4,289.0 201.8,273.5 210.1,273.7 218.5,279.1 226.9,286.2 235.2,274.3 243.6,280.6 252.0,287.0 260.4,283.9 268.8,266.2 277.1,265.4 285.5,266.1 293.9,274.3 302.2,257.8 310.6,256.4 319.0,250.3 327.4,249.2 335.8,236.0 344.1,228.0 352.5,225.6 360.9,225.6 369.2,225.6 377.6,228.2 386.0,237.3 394.4,256.4 402.8,273.7 411.1,290.3 419.5,301.4 427.9,307.4 436.2,296.5 444.6,303.4 453.0,314.6 461.4,321.7 469.8,310.9 478.1,318.0 486.5,325.8 494.9,331.7 503.2,319.2 511.6,325.0 520.0,332.7 528.4,338.9 536.8,326.3 545.1,330.7 553.5,339.2 561.9,345.2 570.2,332.7 578.6,336.4 587.0,346.0"/>
<polyline stroke="#00dc00" marker-mid="url(#m3)" points="51.0,259.7 59.4,262.5 67.8,254.9 76.1,270.3 84.5,289.9 92.9,312.4 101.2,302.8 109.6,304.9 118.0,309.9 126.4,312.0 134.8,283.2 143.1,290.0 151.5,295.8 159.9,296.3 168.2,275.3 176.6,284.9 185.0,288.3 193.4,289.8 201.8,266.1 210.1,269.4 218.5,272.9 226.9,280.4 235.2,263.7 243.6,263.9 252.0,261.0 260.4,266.5 268.8,251.7 277.1,251.3 285.5,254.4 293.9,252.3 302.2,249.2 310.6,254.9 319.0,259.6 327.4,259.8 335.8,240.7 344.1,239.8 352.5,238.3 360.9,248.1 369.2,242.1 377.6,248.1 386.0,258.3 394.4,269.3 402.8,263.7 411.1,274.3 419.5,281.4 427.9,289.2 436.2,268.2 444.6,273.7 453.0,292.3 461.4,298.0 469.8,290.9 478.1,281.3 486.5,277.2 494.9,279.7 503.2,274.9 511.6,293.4 520.0,292.9 528.4,290.0 536.8,267.0 545.1,269.4 553.5,284.0 561.9,287.5 570.2,285.1 578.6,295.1 587.0,293.2"/>
<polyline stroke="#e6dc32" marker-mid="url(#m7)" points="51.0,262.2 59.4,266.6 67.8,260.4 76.1,275.3 84.5,293.8 92.9,315.2 101.2,306.5 109.6,308.1 118.0,311.6 126.4,311.7 134.8,279.8 143.1,287.8 151.5,293.0 159.9,296.3 168.2,278.0 176.6,289.4 185.0,289.7 193.4,293.6 201.8,272.2 210.1,274.2 218.5,280.2 226.9,280.1 235.2,261.6 243.6,263.3 252.0,265.5 260.4,272.1 268.8,259.0 277.1,256.7 285.5,257.7 293.9,256.5 302.2,247.1 310.6,248.9 319.0,254.9 327.4,255.5 335.8,239.1 344.1,245.4 352.5,254.3 360.9,267.2 369.2,262.4 377.6,279.6 386.0,299.3 394.4,315.9 402.8,313.0 411.1,321.7 419.5,336.7 427.9,342.2 436.2,323.6 444.6,342.3 453.0,359.6 461.4,369.9 469.8,349.6 478.1,358.1 486.5,357.7 494.9,374.0 503.2,357.8 511.6,365.1 520.0,368.5 528.4,372.9 536.8,351.5 545.1,360.8 553.5,362.6 561.9,366.2 570.2,334.2 578.6,342.4 587.0,344.9"/>
<polyline stroke="#a0e632" marker-mid="url(#m10)" points="51.0,261.9 59.4,265.2 67.8,258.7 76.1,272.8 84.5,292.1 92.9,314.7 101.2,304.1 109.6,306.9 118.0,311.2 126.4,312.7 134.8,279.2 143.1,288.5 151.5,294.0 159.9,295.5 168.2,275.5 176.6,282.8 185.0,298.0 193.4,301.4 201.8,278.0 210.1,280.4 218.5,287.7 226.9,287.9 235.2,271.3 243.6,275.0 252.0,273.8 260.4,276.0 268.8,258.5 277.1,256.6 285.5,261.7 293.9,264.1 302.2,253.3 310.6,250.6 319.0,245.2 327.4,247.4 335.8,239.7 344.1,236.8 352.5,241.6 360.9,245.7 369.2,248.0 377.6,264.3 386.0,270.6 394.4,284.3 402.8,285.0 411.1,285.0 419.5,287.6 427.9,300.2 436.2,287.5 444.6,293.0 453.0,294.6 461.4,304.0 469.8,290.4 478.1,301.9 486.5,314.8 494.9,327.9 503.2,308.4 511.6,311.4 520.0,318.3 528.4,323.0 536.8,306.8 545.1,310.3 553.5,317.4 561.9,318.2 570.2,298.3 578.6,307.6 587.0,322.9"/>
<polyline stroke="#00a0ff" marker-mid="url(#m11)" points="51.0,266.3 59.4,269.2 67.8,260.9 76.1,274.0 84.5,292.9 92.9,318.0 101.2,309.4 109.6,312.9 118.0,319.6 126.4,322.3 134.8,299.9 143.1,305.4 151.5,309.7 159.9,314.8 168.2,288.2 176.6,289.0 185.0,291.9 193.4,292.7 201.8,273.1 210.1,273.2 218.5,273.3 226.9,274.2 235.2,261.1 243.6,263.9 252.0,266.9 260.4,269.3 268.8,254.9 277.1,260.2 285.5,266.7 293.9,261.4 302.2,255.1 310.6,256.3 319.0,256.8 327.4,270.5 335.8,260.3 344.1,276.2 352.5,287.9 360.9,294.8 369.2,298.0 377.6,312.4 386.0,329.2 394.4,349.2 402.8,331.3 411.1,338.2 419.5,368.3 427.9,379.4 436.2,344.8 444.6,362.4 453.0,377.7 461.4,394.2 469.8,366.2 478.1,377.2 486.5,385.0 494.9,398.5 503.2,368.9 511.6,375.9 520.0,385.0 528.4,389.5 536.8,365.5 545.1,371.2 553.5,375.4 561.9,379.1 570.2,360.9 578.6,370.9 587.0,389.7"/>
<polyline stroke="#00c8c8" marker-mid="url(#m5)" points="51.0,260.9 59.4,263.8 67.8,258.2 76.1,272.8 84.5,292.3 92.9,315.3 101.2,305.9 109.6,306.8 118.0,313.5 126.4,314.4 134.8,282.6 143.1,290.9 151.5,298.1 159.9,300.3 168.2,277.5 176.6,285.9 185.0,287.0 193.4,286.1 201.8,260.5 210.1,263.7 218.5,269.6 226.9,273.2 235.2,259.2 243.6,268.1 252.0,270.4 260.4,275.8 268.8,255.1 277.1,259.6 285.5,262.9 293.9,262.9 302.2,250.0 310.6,246.5 319.0,248.6 327.4,256.2 335.8,246.1 344.1,258.7 352.5,269.0 360.9,287.2 369.2,290.2 377.6,311.5 386.0,330.6 394.4,354.5 402.8,343.4 411.1,350.8 419.5,364.4 427.9,379.0 436.2,349.0 444.6,355.6 453.0,373.9 461.4,397.0 469.8,380.3 478.1,389.8 486.5,395.7 494.9,404.1 503.2,369.3 511.6,378.8 520.0,395.6 528.4,398.1 536.8,364.0 545.1,377.0 553.5,393.9 561.9,398.2 570.2,363.2 578.6,370.5 587.0,380.8"/>
<polyline stroke="#00d28c" marker-mid="url(#m13)" points="51.0,261.2 59.4,265.0 67.8,257.1 76.1,271.2 84.5,291.0 92.9,313.3 101.2,304.7 109.6,305.9 118.0,309.3 126.4,311.8 134.8,282.2 143.1,293.1 151.5,302.2 159.9,304.4 168.2,278.9 176.6,292.8 185.0,295.2 193.4,295.1 201.8,269.6 210.1,272.7 218.5,275.9 226.9,276.1 235.2,258.8 243.6,262.7 252.0,267.5 260.4,273.4 268.8,258.3 277.1,254.7 285.5,259.4 293.9,256.3 302.2,244.2 310.6,241.2 319.0,242.8 327.4,241.0 335.8,234.7 344.1,251.1 352.5,258.3 360.9,272.6 369.2,263.6 377.6,269.5 386.0,282.5 394.4,298.8 402.8,289.8 411.1,297.6 419.5,312.3 427.9,322.8 436.2,307.6 444.6,325.0 453.0,322.9 461.4,332.8 469.8,319.3 478.1,317.0 486.5,336.9 494.9,331.3 503.2,305.8 511.6,334.2 520.0,350.0 528.4,356.5 536.8,338.7 545.1,352.2 553.5,350.0 561.9,356.8 570.2,338.7 578.6,343.0 587.0,348.9"/>
</g>
<polyline fill="none" stroke="#fa3c3c" stroke-width="2" shape-rendering="crispEdges" points="51.0,263.8 59.4,266.8 67.8,259.2 76.1,274.0 84.5,294.0 92.9,316.0 101.2,306.4 109.6,308.8 118.0,313.7 126.4,315.3 134.8,286.0 143.1,293.5 151.5,299.6 159.9,302.4 168.2,278.0 176.6,283.9 185.0,288.0 193.4,291.0 201.8,269.6 210.1,272.4 218.5,275.3 226.9,276.7 235.2,259.6 243.6,262.7 252.0,265.4 260.4,268.0 268.8,250.8 277.1,253.4 285.5,255.4 293.9,255.6 302.2,243.0 310.6,241.8 319.0,239.5 327.4,235.3 335.8,231.0 344.1,229.0 352.5,229.6 360.9,241.0 369.2,258.0 377.6,285.0 386.0,319.0 394.4,341.6 402.8,336.4 411.1,350.3 419.5,361.6 427.9,360.7 436.2,324.3 444.6,321.7 453.0,320.8 461.4,324.3 469.8,315.6 478.1,324.3 486.5,336.4 494.9,331.2 503.2,292.5 511.6,291.6 520.0,293.3 528.4,294.2 536.8,281.2 545.1,283.8 553.5,289.9 561.9,298.5 570.2,286.4 578.6,290.7 587.0,296.0"/>
<polyline fill="none" stroke="#000" stroke-width="2.2" shape-rendering="crispEdges" points="51.0,262.8 59.4,265.8 67.8,258.2 76.1,273.0 84.5,293.0 92.9,315.0 101.2,305.4 109.6,307.8 118.0,312.7 126.4,314.3 134.8,285.0 143.1,292.5 151.5,298.6 159.9,301.4 168.2,277.0 176.6,282.9 185.0,287.0 193.4,290.0 201.8,268.6 210.1,271.4 218.5,274.3 226.9,275.7 235.2,258.6 243.6,261.7 252.0,264.4 260.4,267.0 268.8,251.8 277.1,254.4 285.5,256.9 293.9,257.6 302.2,246.0 310.6,246.8 319.0,248.5 327.4,249.3 335.8,241.7 344.1,242.5 352.5,246.0 360.9,253.0 369.2,251.3 377.6,263.0 386.0,274.8 394.4,287.3 402.8,280.3 411.1,287.3 419.5,295.6 427.9,297.7 436.2,285.2 444.6,292.5 453.0,301.1 461.4,306.3 469.8,294.5 478.1,302.0 486.5,310.0 494.9,316.5 503.2,301.5 511.6,307.5 520.0,313.0 528.4,317.5 536.8,300.6 545.1,307.0 553.5,314.5 561.9,318.5 570.2,301.0 578.6,307.0 587.0,312.0"/>
<polyline fill="none" stroke="#fa3c3c" stroke-width="2" shape-rendering="crispEdges" points="59.4,440.0 67.8,439.5 76.1,438.5 84.5,437.5 92.9,440.8 101.2,441.6 109.6,442.0 118.0,442.6 126.4,444.6 134.8,444.6 143.1,444.6 151.5,444.6 159.9,444.6 168.2,444.6 176.6,444.6 185.0,444.6 193.4,444.6 201.8,444.6 210.1,444.6 218.5,444.6 226.9,444.6 235.2,444.6 243.6,444.6 252.0,444.6 260.4,444.6 268.8,444.6 277.1,444.6 285.5,444.6 293.9,444.6 302.2,444.6 310.6,436.0 319.0,430.0 327.4,425.5 335.8,421.5 344.1,422.8 352.5,424.0 360.9,424.8 369.2,425.3 377.6,428.0 386.0,434.0 394.4,438.0 402.8,440.0 411.1,444.6 419.5,444.6 427.9,444.6 436.2,444.6 444.6,441.0 453.0,439.0 461.4,440.0 469.8,444.6 478.1,444.6 486.5,444.6 494.9,441.0 503.2,439.0 511.6,438.0 520.0,440.0 528.4,444.6 536.8,444.6 545.1,444.6 553.5,441.0 561.9,440.0 570.2,444.6 578.6,444.6 587.0,444.6"/>
<polyline fill="none" stroke="#000" stroke-width="2.2" shape-rendering="crispEdges" points="59.4,440.0 67.8,439.5 76.1,438.5 84.5,437.5 92.9,440.8 101.2,441.6 109.6,442.0 118.0,442.6 126.4,444.6 134.8,444.6 143.1,444.6 151.5,444.6 159.9,444.6 168.2,444.6 176.6,444.6 185.0,444.6 193.4,444.6 201.8,444.6 210.1,444.6 218.5,444.6 226.9,442.9 235.2,442.7 243.6,442.5 252.0,442.4 260.4,442.2 268.8,442.0 277.1,440.9 285.5,439.6 293.9,438.8 302.2,438.2 310.6,437.3 319.0,436.3 327.4,435.1 335.8,433.8 344.1,430.0 352.5,428.6 360.9,429.1 369.2,429.3 377.6,429.5 386.0,432.8 394.4,433.6 402.8,434.5 411.1,433.7 419.5,435.0 427.9,432.3 436.2,429.5 444.6,428.9 453.0,430.1 461.4,431.9 469.8,432.8 478.1,433.6 486.5,436.2 494.9,439.6 503.2,439.1 511.6,436.6 520.0,436.3 528.4,436.3 536.8,435.6 545.1,433.3 553.5,432.9 561.9,433.6 570.2,433.7 578.6,433.7 587.0,433.7"/>
</g>
<g fill="#000" shape-rendering="crispEdges">
<rect x="50" y="25" width="2" height="419"/><rect x="50" y="25" width="538" height="2"/><rect x="586" y="25" width="2" height="419"/><rect x="50" y="443" width="538" height="1"/>
<rect x="47" y="26" width="3" height="1"/><rect x="588" y="26" width="3" height="1"/>
<rect x="47" y="61" width="3" height="1"/><rect x="588" y="61" width="3" height="1"/>
<rect x="47" y="96" width="3" height="1"/><rect x="588" y="96" width="3" height="1"/>
<rect x="47" y="131" width="3" height="1"/><rect x="588" y="131" width="3" height="1"/>
<rect x="47" y="166" width="3" height="1"/><rect x="588" y="166" width="3" height="1"/>
<rect x="47" y="200" width="3" height="1"/><rect x="588" y="200" width="3" height="1"/>
<rect x="47" y="235" width="3" height="1"/><rect x="588" y="235" width="3" height="1"/>
<rect x="47" y="270" width="3" height="1"/><rect x="588" y="270" width="3" height="1"/>
<rect x="47" y="305" width="3" height="1"/><rect x="588" y="305" width="3" height="1"/>
<rect x="47" y="340" width="3" height="1"/><rect x="588" y="340" width="3" height="1"/>
<rect x="47" y="375" width="3" height="1"/><rect x="588" y="375" width="3" height="1"/>
<rect x="47" y="410" width="3" height="1"/><rect x="588" y="410" width="3" height="1"/>
<rect x="588" y="443" width="3" height="1"/>
<rect x="51" y="443" width="1" height="8"/>
<rect x="67" y="443" width="1" height="4"/>
<rect x="84" y="443" width="1" height="8"/>
<rect x="101" y="443" width="1" height="4"/>
<rect x="118" y="443" width="1" height="8"/>
<rect x="134" y="443" width="1" height="4"/>
<rect x="151" y="443" width="1" height="8"/>
<rect x="168" y="443" width="1" height="4"/>
<rect x="185" y="443" width="1" height="8"/>
<rect x="201" y="443" width="1" height="4"/>
<rect x="218" y="443" width="1" height="8"/>
<rect x="235" y="443" width="1" height="4"/>
<rect x="252" y="443" width="1" height="8"/>
<rect x="268" y="443" width="1" height="4"/>
<rect x="285" y="443" width="1" height="8"/>
<rect x="302" y="443" width="1" height="4"/>
<rect x="319" y="443" width="1" height="8"/>
<rect x="335" y="443" width="1" height="4"/>
<rect x="352" y="443" width="1" height="8"/>
<rect x="369" y="443" width="1" height="4"/>
<rect x="386" y="443" width="1" height="8"/>
<rect x="402" y="443" width="1" height="4"/>
<rect x="419" y="443" width="1" height="8"/>
<rect x="436" y="443" width="1" height="4"/>
<rect x="453" y="443" width="1" height="8"/>
<rect x="469" y="443" width="1" height="4"/>
<rect x="486" y="443" width="1" height="8"/>
<rect x="503" y="443" width="1" height="4"/>
<rect x="520" y="443" width="1" height="8"/>
<rect x="536" y="443" width="1" height="4"/>
<rect x="553" y="443" width="1" height="8"/>
<rect x="570" y="443" width="1" height="4"/>
<rect x="587" y="443" width="1" height="8"/>
</g>
<g font-size="13.7" text-anchor="end">
<text x="44.5" y="32.0">30</text>
<text x="44.5" y="67.0">25</text>
<text x="44.5" y="102.0">20</text>
<text x="44.5" y="137.0">15</text>
<text x="44.5" y="172.0">10</text>
<text x="44.5" y="206.0">5</text>
<text x="44.5" y="241.0">0</text>
<text x="44.5" y="276.0">5</text>
<text x="44.5" y="311.0">10</text>
<text x="44.5" y="346.0">15</text>
<text x="44.5" y="381.0">20</text>
<text x="44.5" y="416.0">25</text>
<text x="44.5" y="450.0">30</text>
</g><g font-size="13.7">
<text x="26.0" y="276.0" textLength="8.5" lengthAdjust="spacingAndGlyphs">−</text>
<text x="19.0" y="311.0" textLength="8.5" lengthAdjust="spacingAndGlyphs">−</text>
<text x="19.0" y="346.0" textLength="8.5" lengthAdjust="spacingAndGlyphs">−</text>
<text x="19.0" y="381.0" textLength="8.5" lengthAdjust="spacingAndGlyphs">−</text>
<text x="19.0" y="416.0" textLength="8.5" lengthAdjust="spacingAndGlyphs">−</text>
<text x="19.0" y="450.0" textLength="8.5" lengthAdjust="spacingAndGlyphs">−</text>
</g><g font-size="13.7">
<text x="594.5" y="450.0">0</text>
<text x="594.5" y="416.0">4</text>
<text x="594.5" y="381.0">8</text>
<text x="594.5" y="346.0">12</text>
<text x="594.5" y="311.0">16</text>
<text x="594.5" y="276.0">20</text>
<text x="594.5" y="241.0">24</text>
<text x="594.5" y="206.0">28</text>
<text x="594.5" y="172.0">32</text>
<text x="594.5" y="137.0">36</text>
<text x="594.5" y="102.0">40</text>
<text x="594.5" y="67.0">44</text>
<text x="594.5" y="32.0">48</text>
</g>
<g font-size="8.2">
<text x="45.8" y="460" textLength="11.5" lengthAdjust="spacingAndGlyphs">00</text>
<text x="62.5" y="460" textLength="11.5" lengthAdjust="spacingAndGlyphs">12</text>
<text x="79.3" y="460" textLength="11.5" lengthAdjust="spacingAndGlyphs">00</text>
<text x="96.0" y="460" textLength="11.5" lengthAdjust="spacingAndGlyphs">12</text>
<text x="112.8" y="460" textLength="11.5" lengthAdjust="spacingAndGlyphs">00</text>
<text x="129.6" y="460" textLength="11.5" lengthAdjust="spacingAndGlyphs">12</text>
<text x="146.3" y="460" textLength="11.5" lengthAdjust="spacingAndGlyphs">00</text>
<text x="163.1" y="460" textLength="11.5" lengthAdjust="spacingAndGlyphs">12</text>
<text x="179.8" y="460" textLength="11.5" lengthAdjust="spacingAndGlyphs">00</text>
<text x="196.6" y="460" textLength="11.5" lengthAdjust="spacingAndGlyphs">12</text>
<text x="213.3" y="460" textLength="11.5" lengthAdjust="spacingAndGlyphs">00</text>
<text x="230.1" y="460" textLength="11.5" lengthAdjust="spacingAndGlyphs">12</text>
<text x="246.8" y="460" textLength="11.5" lengthAdjust="spacingAndGlyphs">00</text>
<text x="263.6" y="460" textLength="11.5" lengthAdjust="spacingAndGlyphs">12</text>
<text x="280.3" y="460" textLength="11.5" lengthAdjust="spacingAndGlyphs">00</text>
<text x="297.1" y="460" textLength="11.5" lengthAdjust="spacingAndGlyphs">12</text>
<text x="313.8" y="460" textLength="11.5" lengthAdjust="spacingAndGlyphs">00</text>
<text x="330.6" y="460" textLength="11.5" lengthAdjust="spacingAndGlyphs">12</text>
<text x="347.3" y="460" textLength="11.5" lengthAdjust="spacingAndGlyphs">00</text>
<text x="364.1" y="460" textLength="11.5" lengthAdjust="spacingAndGlyphs">12</text>
<text x="380.8" y="460" textLength="11.5" lengthAdjust="spacingAndGlyphs">00</text>
<text x="397.6" y="460" textLength="11.5" lengthAdjust="spacingAndGlyphs">12</text>
<text x="414.3" y="460" textLength="11.5" lengthAdjust="spacingAndGlyphs">00</text>
<text x="431.1" y="460" textLength="11.5" lengthAdjust="spacingAndGlyphs">12</text>
<text x="447.8" y="460" textLength="11.5" lengthAdjust="spacingAndGlyphs">00</text>
<text x="464.6" y="460" textLength="11.5" lengthAdjust="spacingAndGlyphs">12</text>
<text x="481.3" y="460" textLength="11.5" lengthAdjust="spacingAndGlyphs">00</text>
<text x="498.1" y="460" textLength="11.5" lengthAdjust="spacingAndGlyphs">12</text>
<text x="514.8" y="460" textLength="11.5" lengthAdjust="spacingAndGlyphs">00</text>
<text x="531.5" y="460" textLength="11.5" lengthAdjust="spacingAndGlyphs">12</text>
<text x="548.3" y="460" textLength="11.5" lengthAdjust="spacingAndGlyphs">00</text>
<text x="565.0" y="460" textLength="11.5" lengthAdjust="spacingAndGlyphs">12</text>
<text x="581.5" y="460" textLength="18" lengthAdjust="spacingAndGlyphs">GMT</text></g>
<g font-size="13.5">
<text x="79.0" y="475" textLength="42" lengthAdjust="spacingAndGlyphs">26Dez</text>
<text x="146.0" y="475" textLength="42" lengthAdjust="spacingAndGlyphs">28Dez</text>
<text x="213.0" y="475" textLength="42" lengthAdjust="spacingAndGlyphs">30Dez</text>
<text x="281.0" y="475" textLength="31" lengthAdjust="spacingAndGlyphs">1Jan</text>
<text x="347.0" y="475" textLength="32" lengthAdjust="spacingAndGlyphs">3Jan</text>
<text x="414.0" y="475" textLength="32" lengthAdjust="spacingAndGlyphs">5Jan</text>
<text x="481.0" y="475" textLength="32" lengthAdjust="spacingAndGlyphs">7Jan</text>
<text x="548.0" y="475" textLength="32" lengthAdjust="spacingAndGlyphs">9Jan</text>
</g>
<text x="47.0" y="16.0" font-size="16.5" textLength="44.5" lengthAdjust="spacingAndGlyphs">GEFS</text>
<text x="102.5" y="16.0" font-size="16.5" textLength="75.5" lengthAdjust="spacingAndGlyphs">Zeitreihe</text>
<text x="188.5" y="16.0" font-size="16.5" textLength="53.5" lengthAdjust="spacingAndGlyphs">Vaduz</text>
<text x="434.5" y="15.0" font-size="15.0" textLength="24.5" lengthAdjust="spacingAndGlyphs">Do,</text>
<text x="469.5" y="15.0" font-size="15.0" textLength="89.0" lengthAdjust="spacingAndGlyphs">25.12.2008</text>
<text x="568.5" y="15.0" font-size="15.0" textLength="19.0" lengthAdjust="spacingAndGlyphs">00</text>
<text x="598.5" y="15.0" font-size="15.0" textLength="30.5" lengthAdjust="spacingAndGlyphs">GMT</text>
<text transform="translate(14,336.5) rotate(-90)" font-size="15" textLength="209" lengthAdjust="spacingAndGlyphs">Temperatur 850 hPa [°C]</text>
<text transform="translate(629,323.5) rotate(-90)" font-size="15" textLength="184" lengthAdjust="spacingAndGlyphs">Niederschlag [mm/6h]</text>
<g shape-rendering="crispEdges">
<rect x="49" y="484" width="37" height="2" fill="#fa3c3c"/><rect x="49" y="483" width="4" height="4" fill="#fa3c3c"/><rect x="82" y="483" width="4" height="4" fill="#fa3c3c"/>
<rect x="183" y="484" width="38" height="2" fill="#000"/><rect x="183" y="483" width="4" height="4" fill="#000"/><rect x="217" y="483" width="4" height="4" fill="#000"/>
</g><g font-size="11">
<text x="89.5" y="489" textLength="67" lengthAdjust="spacingAndGlyphs">Kontrolllauf</text>
<text x="225" y="489" textLength="56" lengthAdjust="spacingAndGlyphs">Mittelwert</text>
<text x="307" y="489" textLength="148" lengthAdjust="spacingAndGlyphs">Koordinaten: 10°0/47°N</text>
<text x="510" y="489" textLength="84" lengthAdjust="spacingAndGlyphs">© WetterOnline</text>
</g></svg></body></html>
